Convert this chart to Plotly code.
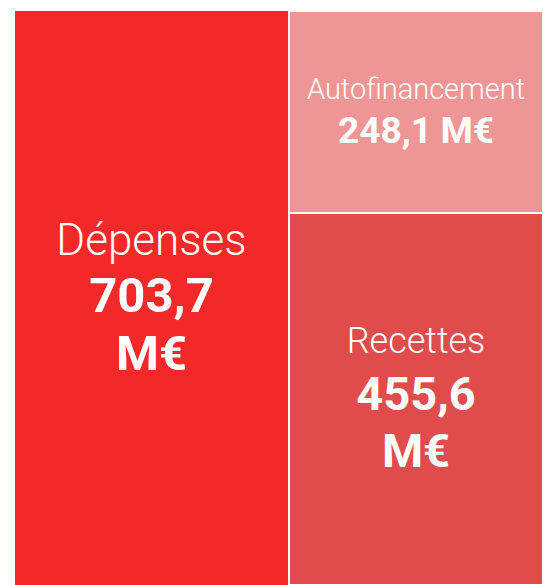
import plotly.graph_objects as go

# Data
columns = ["Dépenses", "Financement"]
depenses_label = "Dépenses"
depenses_value = 703.7
financement_labels = ["Recettes", "Autofinancement"]
financement_values = [455.6, 248.1]
unit = "M€"

colors = {"Dépenses": "#F32828", "Recettes": "#E04C4C", "Autofinancement": "#EE9696"}


def fmt(v):
    return f"{v:.1f}".replace(".", ",")


def label_html(name, size):
    return f"<span style='font-size:{size}px;font-weight:300'>{name}</span>"


def value_html(v, size, split):
    sep = "<br>" if split else " "
    return (f"<span style='font-size:{size}px;font-weight:700'>{fmt(v)}</span>{sep}"
            f"<span style='font-size:{size}px;font-weight:700'>{unit}</span>")


fig = go.Figure()

fig.add_bar(
    x=[columns[0]], y=[depenses_value],
    width=[1.034], offset=[-0.5],
    marker=dict(color=colors["Dépenses"], line=dict(width=0)),
    text=[label_html(depenses_label, 44) + "<br>" + value_html(depenses_value, 49, True)],
    texttemplate="%{text}",
    textposition="inside", insidetextanchor="middle", textangle=0,
    constraintext="none",
    textfont=dict(family="Roboto", size=44, color="white"),
    name=depenses_label,
)

label_sizes = {"Recettes": 36, "Autofinancement": 29}
value_sizes = {"Recettes": 47, "Autofinancement": 37}
base_sizes = {"Recettes": 44, "Autofinancement": 34}
split = {"Recettes": True, "Autofinancement": False}

for name, v in zip(financement_labels, financement_values):
    fig.add_bar(
        x=[columns[1]], y=[v],
        width=[0.962], offset=[-0.462],
        marker=dict(color=colors[name], line=dict(width=2, color="white")),
        text=[label_html(name, label_sizes[name]) + "<br>" + value_html(v, value_sizes[name], split[name])],
        texttemplate="%{text}",
        textposition="inside", insidetextanchor="middle", textangle=0,
        constraintext="none",
        textfont=dict(family="Roboto", size=base_sizes[name], color="white"),
        name=name,
    )

fig.update_layout(
    barmode="stack",
    width=543, height=585,
    margin=dict(l=15, r=0, t=11, b=0),
    paper_bgcolor="white", plot_bgcolor="white",
    showlegend=False,
    xaxis=dict(range=[-0.5, 1.5], visible=False, showgrid=False, zeroline=False),
    yaxis=dict(range=[0, depenses_value], visible=False, showgrid=False, zeroline=False),
)

# Remove the default page margin so the figure fills the window exactly.
fig.write_html(
    "out.html",
    config={"displayModeBar": False},
    post_script="document.body.style.margin='0';document.documentElement.style.overflow='hidden';",
)
